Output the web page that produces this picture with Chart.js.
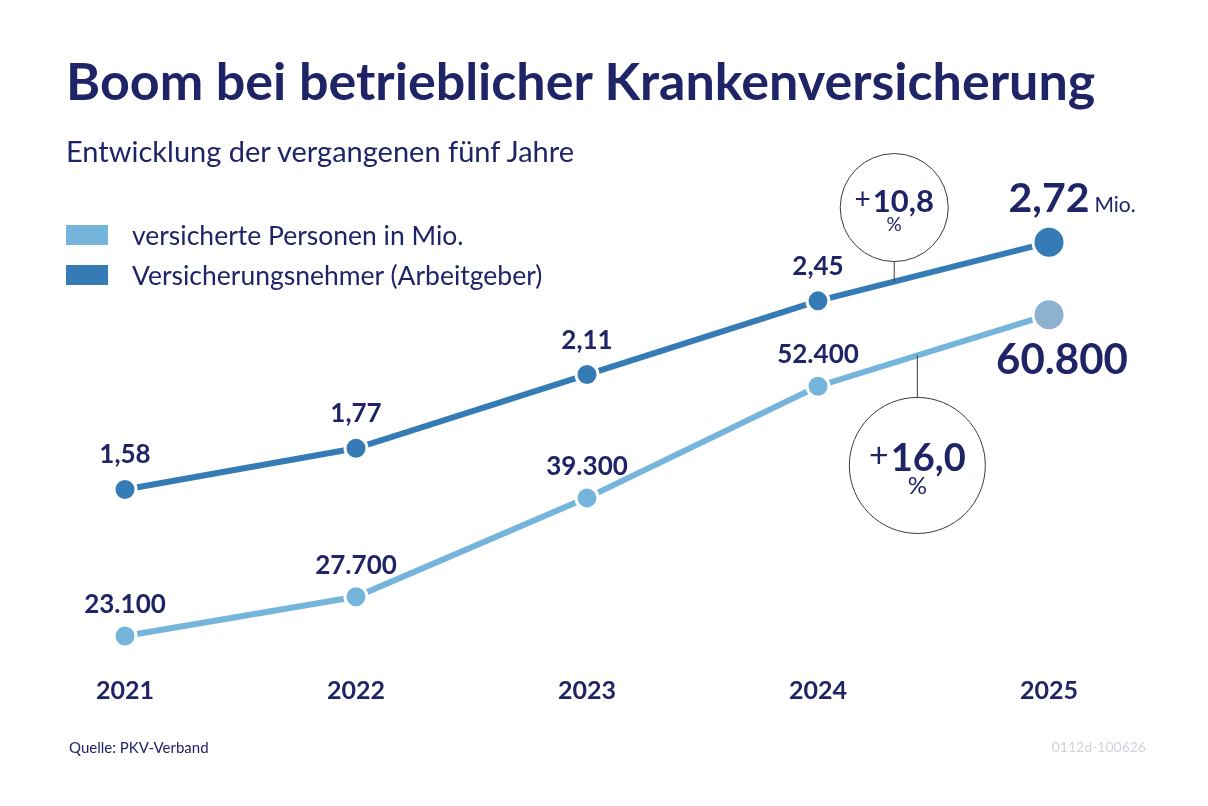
<!DOCTYPE html>
<html lang="de">
<head>
<meta charset="utf-8">
<script src="https://cdn.jsdelivr.net/npm/chart.js@4"></script>
<style>
  html, body { margin: 0; padding: 0; background: #fff; }
  #seite { position: relative; width: 1208px; height: 806px; overflow: hidden; font-family: Lato, "Open Sans", sans-serif; color: #1f2466; }
  #seite canvas { position: absolute; left: 0; top: 0; }
  .titel { position: absolute; left: 66px; top: 49px; font-size: 52px; font-weight: 700; white-space: nowrap; }
  .untertitel { position: absolute; left: 66px; top: 133px; font-size: 29px; white-space: nowrap; }
  .legende { position: absolute; left: 66px; top: 215px; font-size: 26.5px; }
  .legende div { height: 40px; display: flex; align-items: center; white-space: nowrap; }
  .legende span.box { display: inline-block; width: 42px; height: 20px; margin-right: 24px; }
  .quelle { position: absolute; left: 69px; top: 738px; font-size: 15px; }
  .code { position: absolute; right: 62px; top: 738px; font-size: 14px; color: #cfd3da; }
</style>
</head>
<body>
<div id="seite">
  <canvas id="grafik" width="1208" height="806"></canvas>
  <div class="titel">Boom bei betrieblicher Krankenversicherung</div>
  <div class="untertitel">Entwicklung der vergangenen fünf Jahre</div>
  <div class="legende">
    <div><span class="box" style="background:#76b5db"></span>versicherte Personen in Mio.</div>
    <div><span class="box" style="background:#357bb5"></span>Versicherungsnehmer (Arbeitgeber)</div>
  </div>
  <div class="quelle">Quelle: PKV-Verband</div>
  <div class="code">0112d-100626</div>
</div>
<script>
// Daten
const jahre = ['2021', '2022', '2023', '2024', '2025'];
const versicherungsnehmer = [1.58, 1.77, 2.11, 2.45, 2.72];        // Arbeitgeber, Mio.
const versichertePersonen = [23100, 27700, 39300, 52400, 60800];
const zuwachsNehmer = '10,8';    // Veränderung 2024 -> 2025
const zuwachsPersonen = '16,0';

const NAVY = '#1f2466';
const DUNKEL = '#357bb5';
const HELL = '#76b5db';
const HELL_ENDE = '#8fb1d0';

function fmtNehmer(v) { return v.toFixed(2).replace('.', ','); }
function fmtPersonen(v) { return v.toLocaleString('de-DE'); }

// Beschriftungen, Endwerte und Kreise mit Zuwachs
const beschriftung = {
    id: 'beschriftung',
    afterDatasetsDraw(chart) {
        const ctx = chart.ctx;
        const letzter = jahre.length - 1;
        const mN = chart.getDatasetMeta(0).data;
        const mP = chart.getDatasetMeta(1).data;
        ctx.save();
        ctx.fillStyle = NAVY;
        ctx.textAlign = 'center';
        ctx.textBaseline = 'alphabetic';
        ctx.font = 'bold 26px Lato, sans-serif';
        for (let i = 0; i < letzter; i++) {
            ctx.fillText(fmtNehmer(versicherungsnehmer[i]), mN[i].x, mN[i].y - 26);
            ctx.fillText(fmtPersonen(versichertePersonen[i]), mP[i].x, mP[i].y - 23);
        }
        // Endwerte
        ctx.font = 'bold 41px Lato, sans-serif';
        const txtN = fmtNehmer(versicherungsnehmer[letzter]);
        ctx.fillText(txtN, mN[letzter].x, mN[letzter].y - 30);
        const breite = ctx.measureText(txtN).width;
        ctx.textAlign = 'left';
        ctx.font = '21px Lato, sans-serif';
        ctx.fillText('Mio.', mN[letzter].x + breite / 2 + 5, mN[letzter].y - 30);
        ctx.textAlign = 'center';
        ctx.font = 'bold 42px Lato, sans-serif';
        ctx.fillText(fmtPersonen(versichertePersonen[letzter]), mP[letzter].x + 13, mP[letzter].y + 59);

        // Kreise
        function kreis(meta, t, abstand, r, oben, zahl, groesse) {
            const a = meta[letzter - 1], b = meta[letzter];
            const lx = a.x + (b.x - a.x) * t;
            const ly = a.y + (b.y - a.y) * t;
            const cy = oben ? ly - abstand - r : ly + abstand + r;
            ctx.strokeStyle = '#3a3a3a';
            ctx.lineWidth = 1;
            ctx.beginPath();
            ctx.moveTo(lx, ly);
            ctx.lineTo(lx, oben ? ly - abstand : ly + abstand);
            ctx.stroke();
            ctx.beginPath();
            ctx.arc(lx, cy, r, 0, Math.PI * 2);
            ctx.stroke();
            ctx.fillStyle = NAVY;
            ctx.font = 'bold ' + groesse + 'px Lato, sans-serif';
            const wZahl = ctx.measureText(zahl).width;
            ctx.font = Math.round(groesse * 0.9) + 'px Lato, sans-serif';
            const wPlus = ctx.measureText('+').width;
            const start = lx - (wZahl + wPlus + 2) / 2;
            ctx.textAlign = 'left';
            ctx.fillText('+', start, cy + groesse * 0.05);
            ctx.font = 'bold ' + groesse + 'px Lato, sans-serif';
            ctx.fillText(zahl, start + wPlus + 2, cy + groesse * 0.15);
            ctx.textAlign = 'center';
            ctx.font = Math.round(groesse * 0.62) + 'px Lato, sans-serif';
            ctx.fillText('%', lx, cy + groesse * 0.75);
        }
        kreis(mN, 0.33, 20, 54, true, zuwachsNehmer, 31);
        kreis(mP, 0.43, 42, 68, false, zuwachsPersonen, 38);
        ctx.restore();
    }
};

const letzterIndex = jahre.length - 1;

new Chart(document.getElementById('grafik').getContext('2d'), {
    type: 'line',
    data: {
        labels: jahre,
        datasets: [
            {
                label: 'Versicherungsnehmer (Arbeitgeber)',
                data: versicherungsnehmer,
                yAxisID: 'yN',
                borderColor: DUNKEL,
                borderWidth: 6,
                pointBackgroundColor: DUNKEL,
                pointBorderColor: '#fff',
                pointBorderWidth: 3,
                pointRadius: ctx => ctx.dataIndex === letzterIndex ? 16 : 11,
                tension: 0
            },
            {
                label: 'versicherte Personen in Mio.',
                data: versichertePersonen,
                yAxisID: 'yP',
                borderColor: HELL,
                borderWidth: 6,
                pointBackgroundColor: ctx => ctx.dataIndex === letzterIndex ? HELL_ENDE : HELL,
                pointBorderColor: '#fff',
                pointBorderWidth: 3,
                pointRadius: ctx => ctx.dataIndex === letzterIndex ? 16 : 11,
                tension: 0
            }
        ]
    },
    options: {
        responsive: false,
        animation: false,
        layout: { padding: { left: 125, right: 159, top: 150, bottom: 76 } },
        plugins: { legend: { display: false }, tooltip: { enabled: false } },
        scales: {
            x: {
                grid: { display: false, drawTicks: false },
                border: { display: false },
                ticks: { color: NAVY, font: { family: 'Lato', size: 25, weight: 'bold' }, padding: 24, maxRotation: 0 }
            },
            yN: { display: false, min: 0.83, max: 3.146 },
            yP: { display: false, min: 21215, max: 80120 }
        }
    },
    plugins: [beschriftung]
});
</script>
</body>
</html>
